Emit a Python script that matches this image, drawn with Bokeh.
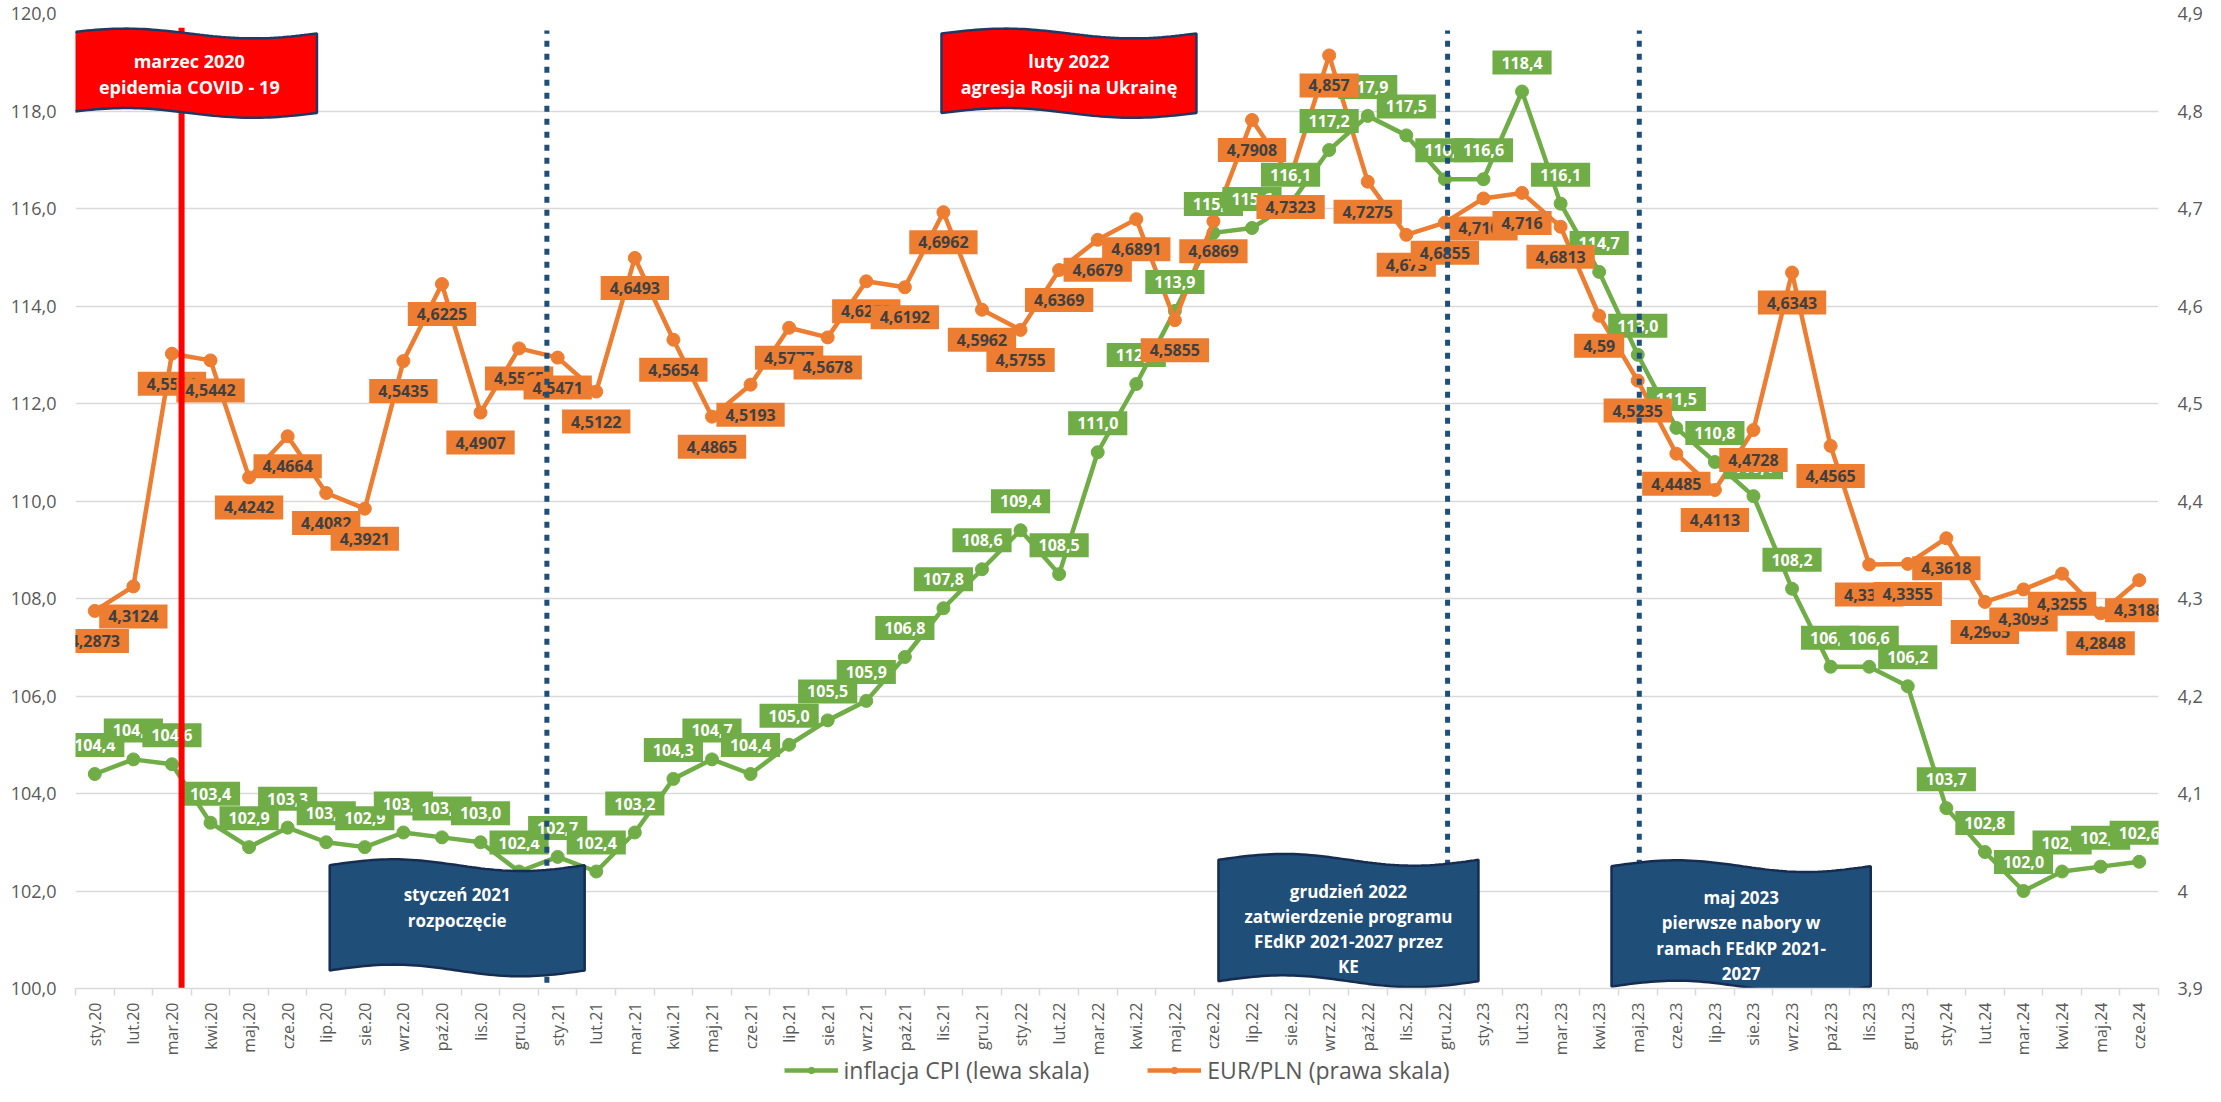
import numpy as np
from bokeh.plotting import figure
from bokeh.layouts import column
from bokeh.models import (Range1d, LinearAxis, FixedTicker, CustomJSTickFormatter,
                          Legend, LegendItem, Grid)
from bokeh.core.properties import value
from bokeh.embed import file_html
from bokeh.resources import INLINE

# ---------------- data ----------------
months = [
    "sty.20", "lut.20", "mar.20", "kwi.20", "maj.20", "cze.20", "lip.20", "sie.20", "wrz.20", "paź.20", "lis.20", "gru.20",
    "sty.21", "lut.21", "mar.21", "kwi.21", "maj.21", "cze.21", "lip.21", "sie.21", "wrz.21", "paź.21", "lis.21", "gru.21",
    "sty.22", "lut.22", "mar.22", "kwi.22", "maj.22", "cze.22", "lip.22", "sie.22", "wrz.22", "paź.22", "lis.22", "gru.22",
    "sty.23", "lut.23", "mar.23", "kwi.23", "maj.23", "cze.23", "lip.23", "sie.23", "wrz.23", "paź.23", "lis.23", "gru.23",
    "sty.24", "lut.24", "mar.24", "kwi.24", "maj.24", "cze.24",
]

cpi = [
    104.4, 104.7, 104.6, 103.4, 102.9, 103.3, 103.0, 102.9, 103.2, 103.1, 103.0, 102.4,
    102.7, 102.4, 103.2, 104.3, 104.7, 104.4, 105.0, 105.5, 105.9, 106.8, 107.8, 108.6,
    109.4, 108.5, 111.0, 112.4, 113.9, 115.5, 115.6, 116.1, 117.2, 117.9, 117.5, 116.6,
    116.6, 118.4, 116.1, 114.7, 113.0, 111.5, 110.8, 110.1, 108.2, 106.6, 106.6, 106.2,
    103.7, 102.8, 102.0, 102.4, 102.5, 102.6,
]

eur = [
    4.2873, 4.3124, 4.5511, 4.5442, 4.4242, 4.4664, 4.4082, 4.3921, 4.5435, 4.6225, 4.4907, 4.5565,
    4.5471, 4.5122, 4.6493, 4.5654, 4.4865, 4.5193, 4.5777, 4.5678, 4.6253, 4.6192, 4.6962, 4.5962,
    4.5755, 4.6369, 4.6679, 4.6891, 4.5855, 4.6869, 4.7908, 4.7323, 4.857, 4.7275, 4.6730, 4.6855,
    4.7103, 4.716, 4.6813, 4.59, 4.5235, 4.4485, 4.4113, 4.4728, 4.6343, 4.4565, 4.3348, 4.3355,
    4.3618, 4.2965, 4.3093, 4.3255, 4.2848, 4.3188,
]

cpi_ticks = [100, 102, 104, 106, 108, 110, 112, 114, 116, 118, 120]
eur_ticks = [3.9, 4.0, 4.1, 4.2, 4.3, 4.4, 4.5, 4.6, 4.7, 4.8, 4.9]

series_names = ["inflacja CPI (lewa skala)", "EUR/PLN (prawa skala)"]

# annotation banners: text lines, x-extent (category index), top/bottom edge, first-line y (left axis)
red_flags = [
    (["marzec 2020", "epidemia COVID - 19"], -0.86, 5.76, 119.59, 117.96, 119.02),
    (["luty 2022", "agresja Rosji na Ukrainę"], 21.95, 28.56, 119.59, 117.96, 119.02),
]
blue_flags = [
    (["styczeń 2021", "rozpoczęcie"], 6.09, 12.70, 102.53, 100.37, 101.92),
    (["grudzień 2022", "zatwierdzenie programu", "FEdKP 2021-2027 przez", "KE"], 29.13, 35.87, 102.64, 100.15, 102.0),
    (["maj 2023", "pierwsze nabory w", "ramach FEdKP 2021-", "2027"], 39.32, 46.04, 102.51, 100.04, 101.86),
]
red_line_x = 2.25
blue_lines_x = [11.72, 35.07, 40.04]

# ---------------- styles ----------------
GREEN = "#70AD47"
ORANGE = "#ED7D31"
NAVY = "#1F4E79"
AXIS_TXT = "#595959"
GRID = "#D9D9D9"
FONT_NAME = "Open Sans"
FONT = value(FONT_NAME)
W = 2205
H_MAIN = 1060
H_LEG = 32
OVERLAP = 6

x = np.arange(len(months))
cpi_txt = [f"{v:.1f}".replace(".", ",") for v in cpi]
eur_txt = [f"{v:.4f}".rstrip("0").rstrip(".").replace(".", ",") for v in eur]

p = figure(width=W, height=H_MAIN, x_range=Range1d(-0.5, len(months) - 0.5),
           y_range=Range1d(100, 120), output_backend="svg", toolbar_location=None,
           x_axis_type=None, y_axis_type=None,
           min_border_left=75, min_border_right=47, min_border_top=13, min_border_bottom=72)
p.outline_line_color = None
p.background_fill_color = "white"
p.extra_y_ranges = {"eur": Range1d(3.9, 4.9)}

left_axis = LinearAxis(ticker=FixedTicker(ticks=cpi_ticks),
                       formatter=CustomJSTickFormatter(code="return tick.toFixed(1).replace('.', ',');"))
right_axis = LinearAxis(y_range_name="eur", ticker=FixedTicker(ticks=eur_ticks),
                        formatter=CustomJSTickFormatter(
                            code="return (Math.round(tick*10)/10).toString().replace('.', ',');"))
for ax in (left_axis, right_axis):
    ax.axis_line_color = None
    ax.major_tick_line_color = None
    ax.minor_tick_line_color = None
    ax.major_tick_out = 0
    ax.major_label_standoff = 19
    ax.major_label_text_font = FONT_NAME
    ax.major_label_text_font_size = "18px"
    ax.major_label_text_color = AXIS_TXT
p.add_layout(left_axis, "left")
p.add_layout(right_axis, "right")

bottom_axis = LinearAxis(
    ticker=FixedTicker(ticks=list(range(len(months))),
                       minor_ticks=[i - 0.5 for i in range(len(months) + 1)]),
    major_label_overrides={i: m for i, m in enumerate(months)},
    major_label_orientation=np.pi / 2,
)
bottom_axis.major_tick_line_color = None
bottom_axis.major_tick_out = 0
bottom_axis.major_tick_in = 0
bottom_axis.minor_tick_line_color = GRID
bottom_axis.minor_tick_line_width = 1.5
bottom_axis.minor_tick_out = 7
bottom_axis.minor_tick_in = 0
bottom_axis.axis_line_color = GRID
bottom_axis.axis_line_width = 1.5
bottom_axis.major_label_standoff = 7
bottom_axis.major_label_text_font = FONT_NAME
bottom_axis.major_label_text_font_size = "16px"
bottom_axis.major_label_text_color = AXIS_TXT
p.add_layout(bottom_axis, "below")

p.add_layout(Grid(dimension=1, ticker=left_axis.ticker, grid_line_color=GRID, grid_line_width=1.5))

# ---------------- series ----------------
line_style = dict(line_width=4.5)
p.line(x, cpi, line_color=GREEN, **line_style)
p.scatter(x, cpi, size=13, fill_color=GREEN, line_color=GREEN)
p.line(x, eur, y_range_name="eur", line_color=ORANGE, **line_style)
p.scatter(x, eur, y_range_name="eur", size=13, fill_color=ORANGE, line_color=ORANGE)

pad = dict(left=9, right=9, top=6, bottom=6)
p.text(x, cpi, text=cpi_txt, y_offset=-29, text_align="center", text_baseline="middle",
       text_font=FONT, text_font_style="bold", text_font_size="16px", text_color="white",
       background_fill_color=GREEN, padding=pad)
p.text(x, eur, text=eur_txt, y_range_name="eur", y_offset=30, text_align="center",
       text_baseline="middle", text_font=FONT, text_font_style="bold", text_font_size="16px",
       text_color="#404040", background_fill_color=ORANGE, padding=pad)

# ---------------- event lines ----------------
p.segment(x0=[red_line_x], y0=[100], x1=[red_line_x], y1=[119.71], line_color="#FF0000", line_width=6)
p.segment(x0=blue_lines_x, y0=[100.12] * 3, x1=blue_lines_x, y1=[119.65] * 3,
          line_color=NAVY, line_width=5, line_dash="6 7")

# ---------------- wave banners ----------------
def wave(x0, x1, top, bottom, amp):
    t = np.linspace(0, 1, 60)
    xs_top = x0 + (x1 - x0) * t
    ys_top = top + amp * np.sin(2 * np.pi * t)
    xs_bot = xs_top[::-1]
    ys_bot = (bottom + amp * np.sin(2 * np.pi * t))[::-1]
    return list(xs_top) + list(xs_bot), list(ys_top) + list(ys_bot)

def banners(flags, fill, edge, amp, size, step):
    px, py, tx, ty, tt = [], [], [], [], []
    for lines, a, b, top, bot, y_first in flags:
        xs, ys = wave(a, b, top, bot, amp)
        px.append(xs); py.append(ys)
        for k, ln in enumerate(lines):
            tx.append((a + b) / 2); ty.append(y_first - k * step); tt.append(ln)
    p.patches(px, py, fill_color=fill, line_color=edge, line_width=2.5)
    p.text(tx, ty, text=tt, text_align="center", text_baseline="middle",
           text_font=FONT, text_font_style="bold", text_font_size=size, text_color="white")

banners(red_flags, "#FF0000", "#203864", 0.10, "18px", 0.53)
banners(blue_flags, NAVY, "#172C51", 0.12, "17px", 0.515)

# ---------------- legend (own transparent strip under the axis labels) ----------------
lg = figure(width=W, height=H_LEG, x_range=Range1d(-1000, -999), y_range=Range1d(-1000, -999),
            output_backend="svg", toolbar_location=None, x_axis_type=None, y_axis_type=None,
            min_border=0, styles={"margin-top": f"-{OVERLAP}px"})
lg.outline_line_color = None
lg.grid.visible = False
lg.background_fill_alpha = 0
lg.border_fill_alpha = 0
g_l = lg.line(x, cpi, line_color=GREEN, **line_style)
g_s = lg.scatter(x, cpi, size=13, fill_color=GREEN, line_color=GREEN)
o_l = lg.line(x, eur, line_color=ORANGE, **line_style)
o_s = lg.scatter(x, eur, size=13, fill_color=ORANGE, line_color=ORANGE)
legend = Legend(items=[LegendItem(label=series_names[0], renderers=[g_l, g_s]),
                       LegendItem(label=series_names[1], renderers=[o_l, o_s])],
                orientation="horizontal", location="center",
                label_text_font=FONT_NAME, label_text_font_size="23px", label_text_color=AXIS_TXT,
                glyph_width=54, glyph_height=16, spacing=58, padding=0, margin=0,
                label_standoff=6, border_line_color=None, background_fill_alpha=0)
lg.add_layout(legend, "center")

layout = column(p, lg, spacing=0)
open("out.html", "w").write(file_html(layout, INLINE))
